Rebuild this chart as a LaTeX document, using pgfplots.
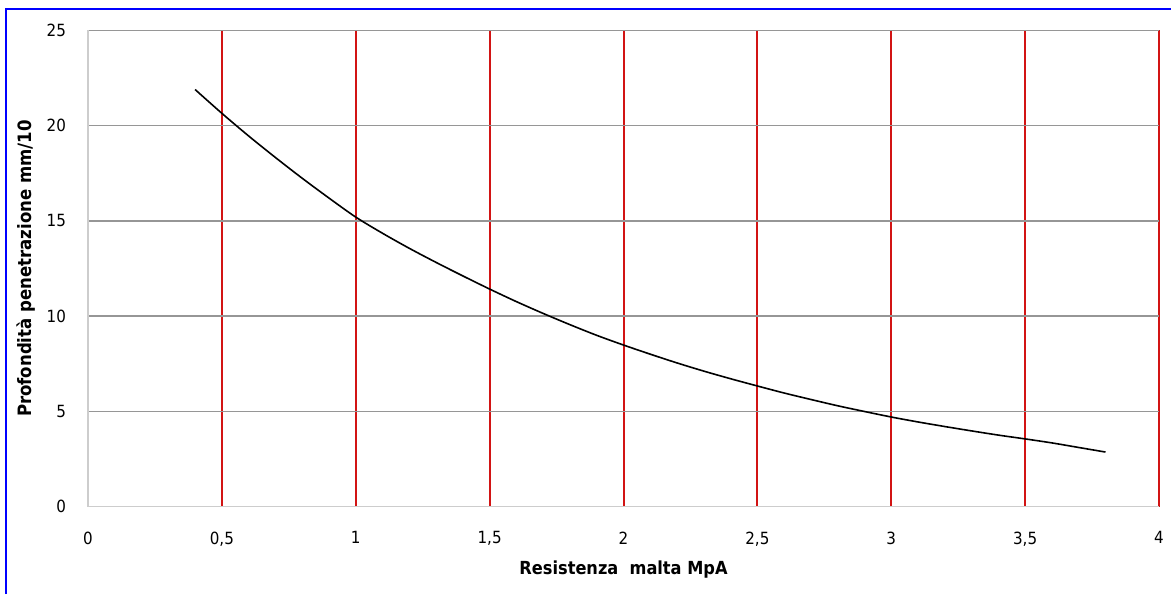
\documentclass[border=0pt]{standalone}
\usepackage{fontspec}
\setmainfont{DejaVu Sans Condensed}
\usepackage{pgfplots}
\pgfplotsset{compat=1.18}
\definecolor{gridred}{RGB}{210,20,20}
\definecolor{gridgray}{RGB}{150,150,150}
\definecolor{axgray}{RGB}{205,205,205}
\definecolor{borderblue}{RGB}{0,0,255}
\begin{document}
\begin{tikzpicture}
\path[use as bounding box, fill=white] (0,0) rectangle (585.5pt,297pt);
\draw[borderblue, line width=1.2pt] (3pt,0) -- (3pt,292.5pt) -- (585.5pt,292.5pt);
\begin{axis}[
 at={(44pt,43.75pt)}, anchor=south west,
 scale only axis, width=535.5pt, height=238pt,
 xmin=0, xmax=4, ymin=0, ymax=25,
 xtick={0,0.5,1,1.5,2,2.5,3,3.5,4}, ytick={0,5,10,15,20,25},
 axis x line*=bottom, axis y line*=left,
 axis line style={axgray, line width=0.8pt, -},
 major tick length=0pt,
 xmajorgrids, ymajorgrids,
 x grid style={draw=gridred, line width=1pt},
 y grid style={draw=gridgray, line width=0.75pt},
 /pgf/number format/assume math mode=true,
 /pgf/number format/use comma,
 tick label style={font=\fontsize{8.4}{10}\selectfont, black},
 xticklabel style={yshift=-9pt},
 yticklabel style={xshift=-7.5pt},
 xlabel={Resistenza~ malta MpA},
 ylabel={Profondità penetrazione mm/10},
 xlabel style={at={(axis description cs:0.5,-0.1334)}, anchor=center, font=\bfseries\fontsize{9}{11}\selectfont},
 ylabel style={at={(axis description cs:-0.0579,0.5)}, anchor=center, font=\bfseries\fontsize{9.2}{11}\selectfont},
]
\addplot[black, line width=0.8pt, smooth] coordinates {
(0.4,21.9) (0.5,20.65) (0.6,19.46) (0.7,18.33) (0.8,17.24) (0.9,16.2)
(1.0,15.2) (1.1,14.35) (1.2,13.56) (1.3,12.82) (1.4,12.11) (1.5,11.42)
(1.6,10.76) (1.7,10.14) (1.8,9.55) (1.9,8.99) (2.0,8.48)
(2.1,8.0) (2.2,7.54) (2.3,7.11) (2.4,6.71) (2.5,6.33)
(2.6,5.96) (2.7,5.62) (2.8,5.29) (2.9,4.99) (3.0,4.70)
(3.1,4.44) (3.2,4.2) (3.3,3.97) (3.4,3.75) (3.5,3.55)
(3.6,3.34) (3.7,3.1) (3.8,2.86)
};
\end{axis}
\end{tikzpicture}
\end{document}
